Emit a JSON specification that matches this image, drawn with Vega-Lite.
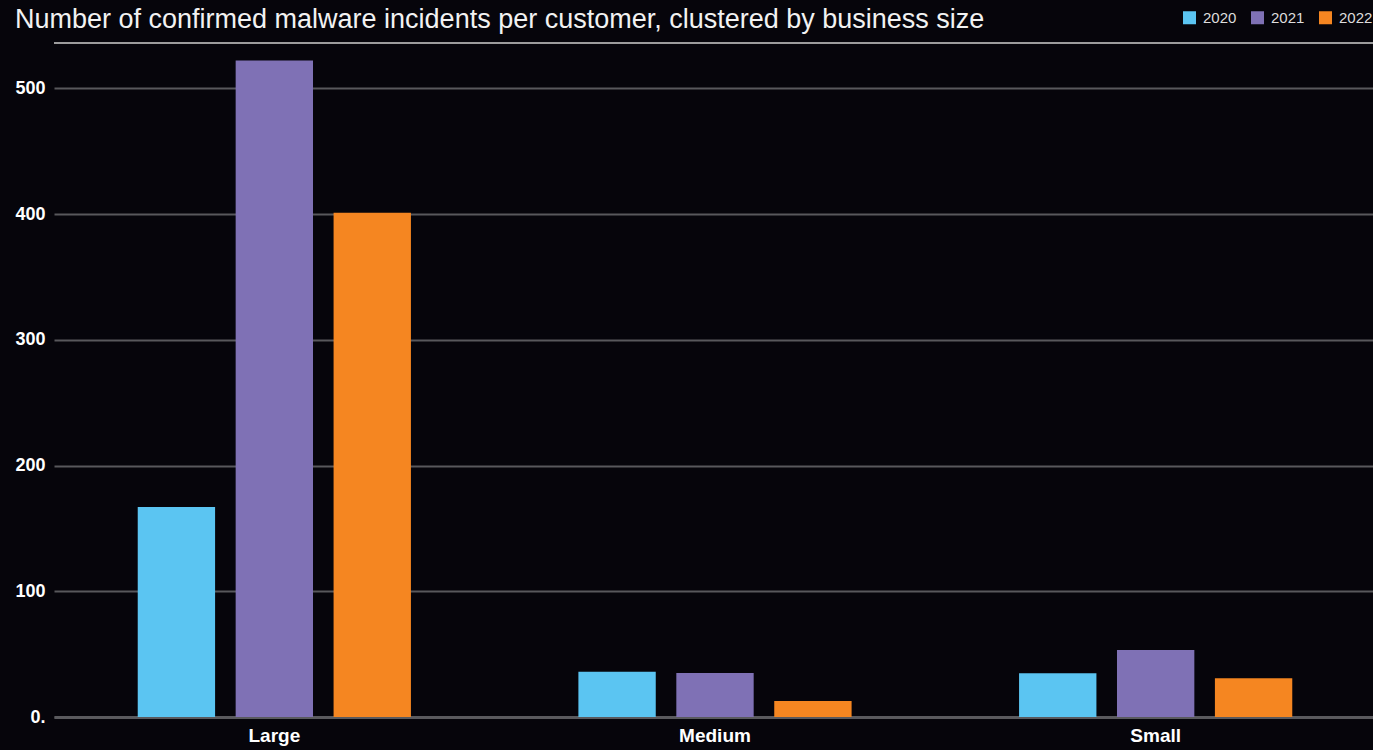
{
  "$schema": "https://vega.github.io/schema/vega-lite/v6.json",
  "autosize": {"type": "none"},
  "padding": {"left": 54, "top": 43, "right": 0, "bottom": 33},
  "width": 1322,
  "height": 674,
  "background": "#06050b",
  "title": {
    "text": "Number of confirmed malware incidents per customer, clustered by business size",
    "anchor": "start",
    "frame": "bounds",
    "font": "Liberation Sans",
    "fontSize": 27,
    "fontWeight": "normal",
    "color": "#f2f2f2",
    "offset": 0,
    "dy": 24
  },
  "config": {
    "view": {"stroke": null},
    "font": "Liberation Sans"
  },
  "data": {
    "values": [
      {"size": "Large", "year": "2020", "incidents": 167},
      {"size": "Large", "year": "2021", "incidents": 522},
      {"size": "Large", "year": "2022", "incidents": 401},
      {"size": "Medium", "year": "2020", "incidents": 36},
      {"size": "Medium", "year": "2021", "incidents": 35},
      {"size": "Medium", "year": "2022", "incidents": 12.7},
      {"size": "Small", "year": "2020", "incidents": 34.7},
      {"size": "Small", "year": "2021", "incidents": 53.3},
      {"size": "Small", "year": "2022", "incidents": 30.8}
    ]
  },
  "layer": [
    {
      "mark": {"type": "bar"},
      "encoding": {
        "x": {
          "field": "size",
          "type": "nominal",
          "scale": {"paddingInner": 0.38, "paddingOuter": 0.19},
          "axis": {
            "title": null,
            "labelAngle": 0,
            "labelColor": "#ffffff",
            "labelFont": "Liberation Sans",
            "labelFontSize": 19,
            "labelFontWeight": "bold",
            "labelPadding": 9,
            "ticks": false,
            "domain": true,
            "domainColor": "#5a5a5e",
            "domainWidth": 3
          }
        },
        "xOffset": {
          "field": "year",
          "type": "nominal",
          "scale": {"paddingInner": 0.21, "paddingOuter": 0}
        },
        "y": {
          "field": "incidents",
          "type": "quantitative",
          "scale": {"domain": [0, 536], "nice": false},
          "axis": {
            "title": null,
            "values": [0, 100, 200, 300, 400, 500],
            "labelExpr": "datum.value == 0 ? '0.' : datum.label",
            "labelColor": "#ffffff",
            "labelFont": "Liberation Sans",
            "labelFontSize": 18,
            "labelFontWeight": "bold",
            "labelPadding": 9,
            "ticks": false,
            "domain": false,
            "grid": true,
            "gridColor": "#58585c",
            "gridWidth": 2
          }
        },
        "color": {
          "field": "year",
          "type": "nominal",
          "scale": {"domain": ["2020", "2021", "2022"], "range": ["#5bc5f2", "#7f71b5", "#f58621"]},
          "legend": {
            "title": null,
            "orient": "none",
            "direction": "horizontal",
            "legendX": 1128,
            "legendY": -33,
            "symbolType": "square",
            "symbolSize": 169,
            "symbolStrokeWidth": 0,
            "symbolOpacity": 1,
            "labelColor": "#dddddd",
            "labelFont": "Liberation Sans",
            "labelFontSize": 15,
            "labelOffset": 6,
            "columnPadding": 13
          }
        }
      }
    },
    {
      "data": {"values": [{"top": 536}]},
      "mark": {"type": "rule", "color": "#cfcfcf", "strokeWidth": 1.5},
      "encoding": {"y": {"field": "top", "type": "quantitative"}}
    }
  ]
}
